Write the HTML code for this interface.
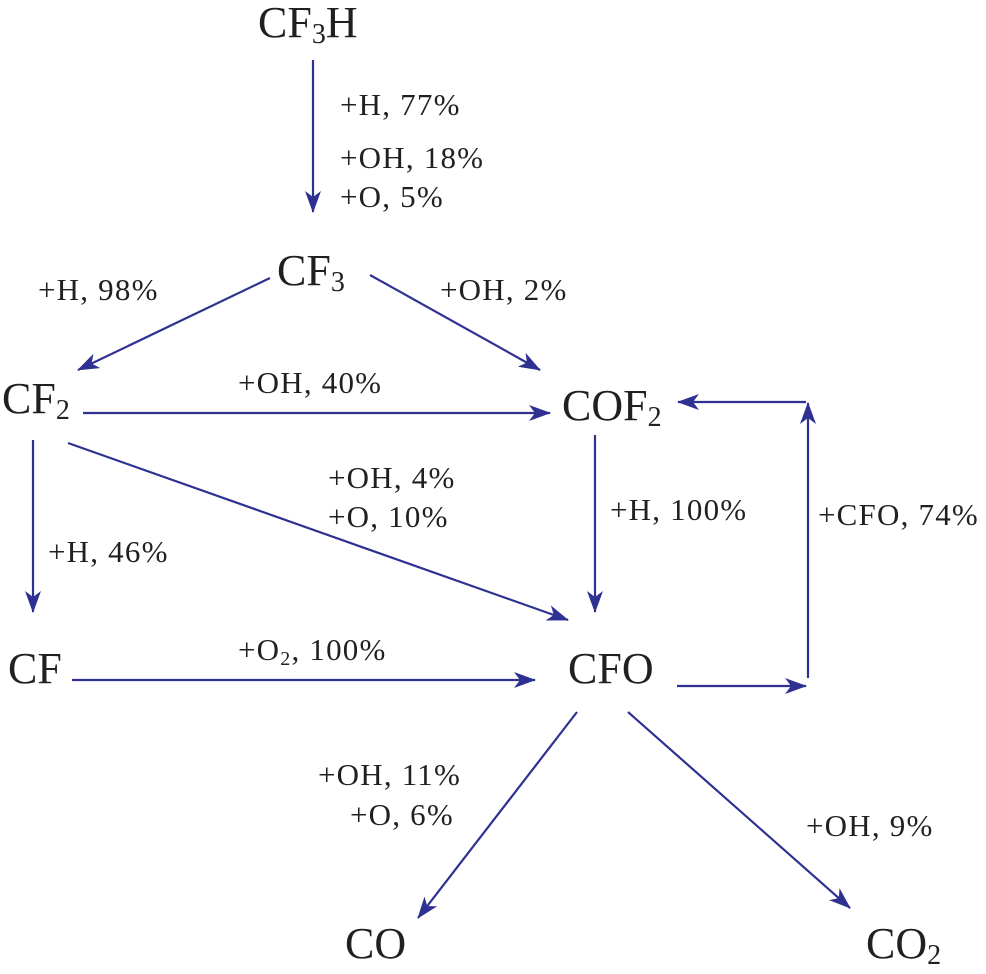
<!DOCTYPE html>
<html><head><meta charset="utf-8"><style>
html,body{margin:0;padding:0;background:#fff;}
svg{display:block;}
.n{font-family:"Liberation Serif",serif;font-size:44px;fill:#231f20;}
.l{font-family:"Liberation Serif",serif;font-size:31px;letter-spacing:1.2px;fill:#231f20;}
line,polyline{stroke:#2e3192;stroke-width:2.2;fill:none;}
</style></head><body>
<svg width="986" height="974" viewBox="0 0 986 974" xmlns="http://www.w3.org/2000/svg">
<defs>
<marker id="a" viewBox="0 0 22 16" refX="21" refY="8" markerWidth="22" markerHeight="16" markerUnits="userSpaceOnUse" orient="auto">
<path d="M0,0 L22,8 L0,16 L6,8 Z" fill="#2e3192"/>
</marker>
</defs>
<text class="n" x="258" y="37">CF<tspan font-size="28" dy="6">3</tspan><tspan dy="-6">H</tspan></text>
<text class="n" x="277" y="285">CF<tspan font-size="28" dy="6">3</tspan></text>
<text class="n" x="2" y="413">CF<tspan font-size="28" dy="6">2</tspan></text>
<text class="n" x="562" y="420">COF<tspan font-size="28" dy="6">2</tspan></text>
<text class="n" x="8" y="683">CF</text>
<text class="n" x="568" y="683">CFO</text>
<text class="n" x="345" y="958">CO</text>
<text class="n" x="866" y="958">CO<tspan font-size="28" dy="6">2</tspan></text>

<text class="l" x="340" y="115">+H, 77%</text>
<text class="l" x="340" y="168">+OH, 18%</text>
<text class="l" x="340" y="207">+O, 5%</text>
<text class="l" x="38" y="300">+H, 98%</text>
<text class="l" x="440" y="300">+OH, 2%</text>
<text class="l" x="238" y="393">+OH, 40%</text>
<text class="l" x="328" y="488">+OH, 4%</text>
<text class="l" x="328" y="527">+O, 10%</text>
<text class="l" x="610" y="520">+H, 100%</text>
<text class="l" x="818" y="525">+CFO, 74%</text>
<text class="l" x="48" y="562">+H, 46%</text>
<text class="l" x="238" y="660">+O<tspan font-size="20" dy="5">2</tspan><tspan dy="-5">, 100%</tspan></text>
<text class="l" x="318" y="785">+OH, 11%</text>
<text class="l" x="350" y="825">+O, 6%</text>
<text class="l" x="806" y="836">+OH, 9%</text>

<line x1="313" y1="60" x2="313" y2="212" marker-end="url(#a)"/>
<line x1="270" y1="278" x2="78" y2="370" marker-end="url(#a)"/>
<line x1="370" y1="275" x2="540" y2="370" marker-end="url(#a)"/>
<line x1="83" y1="413" x2="550" y2="413" marker-end="url(#a)"/>
<line x1="68" y1="443" x2="568" y2="620" marker-end="url(#a)"/>
<line x1="33" y1="440" x2="33" y2="612" marker-end="url(#a)"/>
<line x1="595" y1="435" x2="595" y2="612" marker-end="url(#a)"/>
<line x1="72" y1="680" x2="535" y2="680" marker-end="url(#a)"/>
<line x1="677" y1="686" x2="806" y2="686" marker-end="url(#a)"/>
<line x1="808" y1="678" x2="808" y2="403" marker-end="url(#a)"/>
<line x1="806" y1="402" x2="678" y2="402" marker-end="url(#a)"/>
<line x1="577" y1="712" x2="418" y2="918" marker-end="url(#a)"/>
<line x1="628" y1="712" x2="850" y2="908" marker-end="url(#a)"/>
</svg>
</body></html>
